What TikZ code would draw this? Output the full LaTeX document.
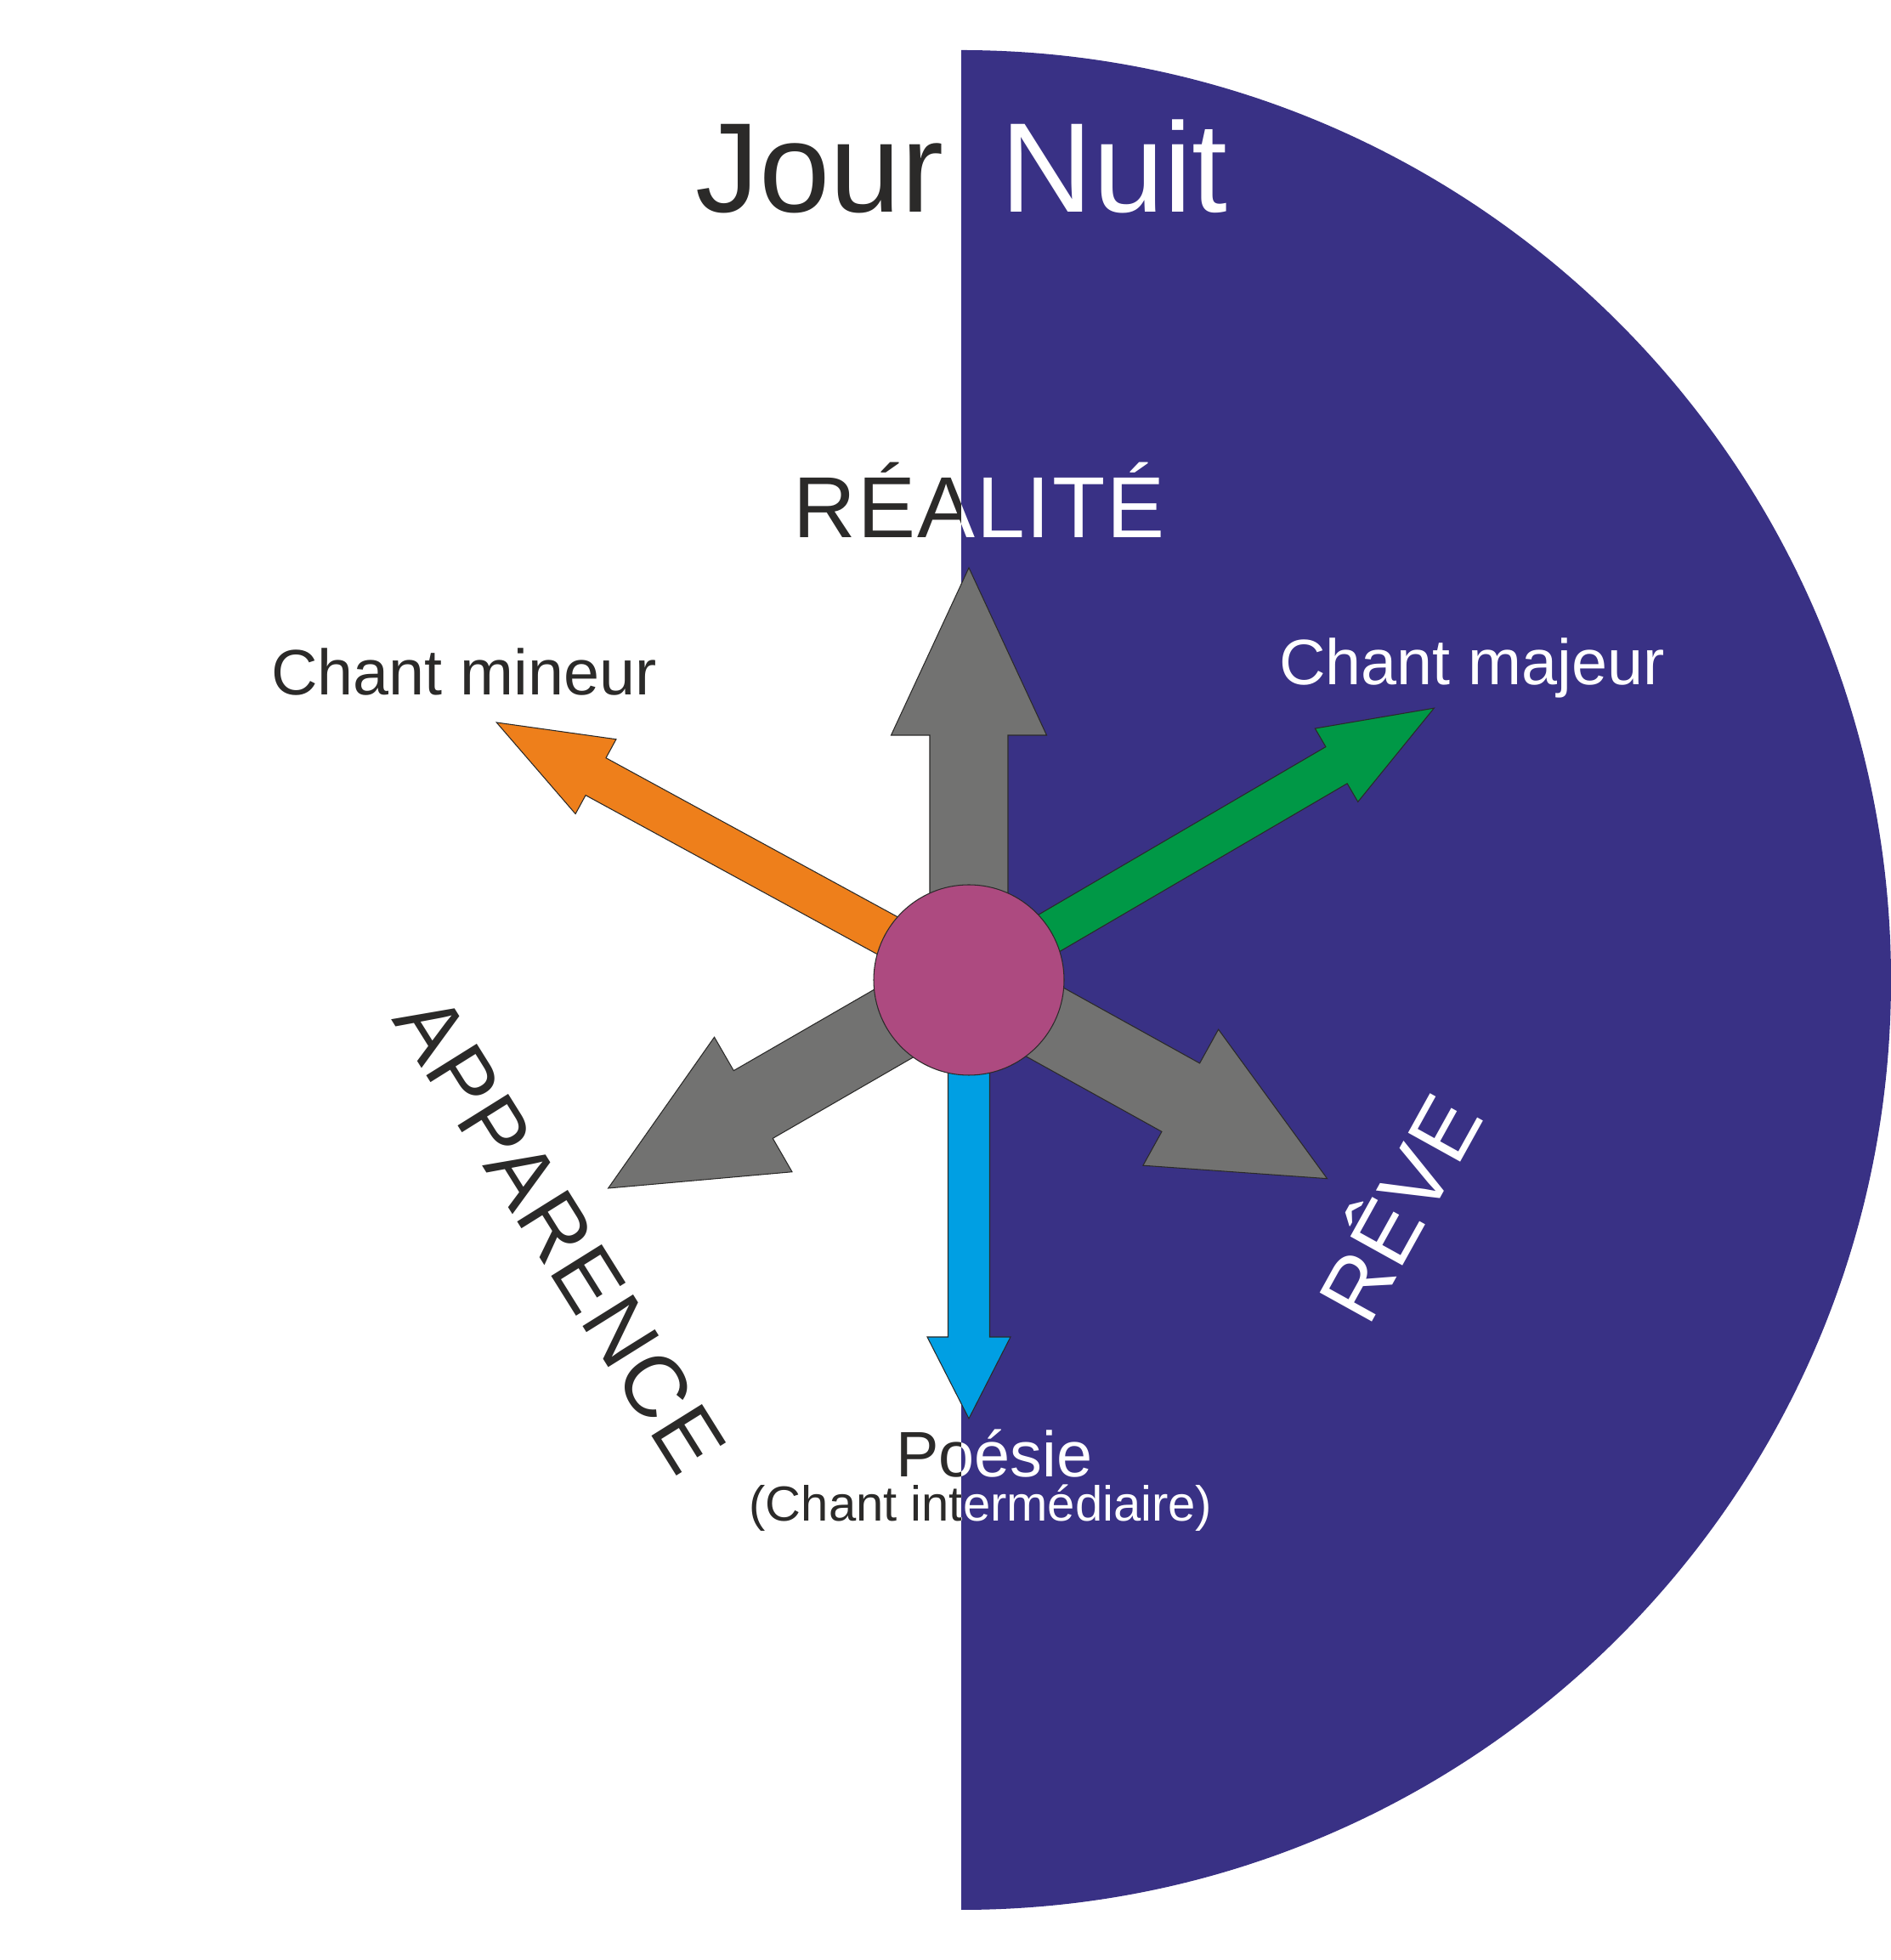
\documentclass[tikz,border=0pt]{standalone}
\usepackage{fontspec}
\setmainfont{Liberation Sans}
\newfontfamily\widefont[LetterSpace=2]{Liberation Sans}

\definecolor{night}{HTML}{393185}
\definecolor{ink}{HTML}{2B2A29}
\definecolor{arrowgray}{HTML}{727271}
\definecolor{minor}{HTML}{EE7F1B}
\definecolor{major}{HTML}{009846}
\definecolor{middle}{HTML}{009FE3}
\definecolor{hub}{HTML}{AD4A80}

\tikzset{
  bigword/.style={font=\fontsize{42.7}{42.7}\selectfont, inner sep=0},
  pole/.style={font=\widefont\fontsize{29}{29}\selectfont, inner sep=0},
  chant/.style={font=\fontsize{21.5}{21.5}\selectfont, inner sep=0},
  subword/.style={font=\fontsize{16.5}{16.5}\selectfont, inner sep=0},
  edge/.style={draw=ink, line width=0.3pt}
}

% block arrow: colour, angle, length, shaft, head, head length
\newcommand{\blockarrow}[6]{%
  \begin{scope}[shift={(O)}, rotate=#2]
    \filldraw[edge, fill=#1] (0,-#4) -- ({#3-#6},-#4) -- ({#3-#6},-#5) -- (#3,0)
      -- ({#3-#6},#5) -- ({#3-#6},#4) -- (0,#4) -- cycle;
  \end{scope}}

% texts that cross the day/night line
\newcommand{\crossing}[1]{%
  \node[pole, text=#1, anchor=base] (realite) at (11.52,16.73) {RÉALITÉ};
  \node[chant, text=#1, anchor=base] (poesie) at (11.70,5.68) {Poésie};
  \node[subword, text=#1, anchor=base] (inter) at (11.54,5.16) {(Chant intermédiaire)};
}

\begin{document}
\begin{tikzpicture}
\useasboundingbox (0,0) rectangle (22.24,23.06);
\coordinate (O) at (11.40,11.53);

% night side
\fill[night] (11.31,22.47) arc[start angle=90, end angle=-90, radius=10.94cm] -- cycle;

% arrows
\foreach \a/\l in {90/4.85, 210/4.90, -29/4.82}{
  \blockarrow{arrowgray}{\a}{\l}{0.46}{0.915}{1.97}
}
\blockarrow{minor}{151.4}{6.33}{0.25}{0.50}{1.33}
\blockarrow{major}{30.3}{6.34}{0.25}{0.50}{1.33}
\blockarrow{middle}{270}{5.16}{0.245}{0.49}{0.96}

\node[circle, edge, fill=hub, minimum size=2.24cm, inner sep=0] (hub) at (O) {};

% day
\node[bigword, text=ink, anchor=base east] (jour) at (11.11,20.56) {Jour};
\node[chant, text=ink, anchor=base] (mineur) at (5.46,14.88) {Chant mineur};
\node[pole, text=ink, rotate=-58] (apparence) at (6.59,8.55) {APPARENCE};

% night
\node[bigword, text=white, anchor=base west] (nuit) at (11.77,20.56) {Nuit};
\node[chant, text=white, anchor=base] (majeur) at (17.32,15.00) {Chant majeur};
\node[pole, text=white, rotate=61] (reve) at (16.40,8.89) {RÊVE};

\begin{scope}
  \clip (0,0) rectangle (11.31,23.06);
  \crossing{ink}
\end{scope}
\begin{scope}
  \clip (11.31,0) rectangle (22.24,23.06);
  \crossing{white}
\end{scope}
\end{tikzpicture}
\end{document}
